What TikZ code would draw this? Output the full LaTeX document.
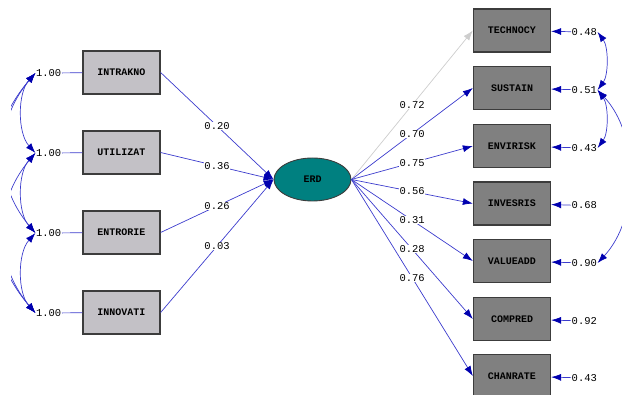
\documentclass[tikz,border=0pt]{standalone}
\usepackage{fontspec}
\setmonofont{Liberation Mono}
\usetikzlibrary{arrows.meta,shapes.geometric}
\definecolor{linkblue}{RGB}{60,60,205}
\definecolor{tipblue}{RGB}{0,0,175}
\definecolor{exogray}{RGB}{195,193,198}
\definecolor{endogray}{RGB}{128,128,128}
\definecolor{boxedge}{RGB}{60,60,60}
\definecolor{fixgray}{RGB}{205,205,205}
\definecolor{latteal}{RGB}{0,128,128}
\tikzset{
  exobox/.style={draw=boxedge, fill=exogray, line width=1.3pt, minimum width=77pt,
    minimum height=43pt, font=\ttfamily\bfseries\fontsize{10}{12}\selectfont},
  endobox/.style={exobox, fill=endogray},
  latent/.style={ellipse, draw=boxedge, fill=latteal, line width=0.9pt, minimum width=77pt,
    minimum height=43pt, font=\ttfamily\bfseries\fontsize{10}{12}\selectfont},
  coef/.style={fill=white, inner sep=0.5pt, font=\ttfamily\fontsize{10.5}{12}\selectfont},
  errlab/.style={inner sep=0.5pt, font=\ttfamily\fontsize{10.5}{12}\selectfont},
  link/.style={draw=linkblue, line width=0.7pt, -{Latex[length=10pt,width=7pt,color=tipblue]}},
  covar/.style={draw=linkblue, line width=0.7pt,
    {Latex[length=10pt,width=7pt,color=tipblue]}-{Latex[length=10pt,width=7pt,color=tipblue]}}
}
\begin{document}
\begin{tikzpicture}[x=1pt,y=-1pt]
    \useasboundingbox (0,0) rectangle (622,395);
    \clip (11,0) rectangle (622,395);
    % exogenous side
    \node[exobox] (intrakno) at (121.5,72.5) {INTRAKNO};
    \node[exobox] (utilizat) at (121.5,152.5) {UTILIZAT};
    \node[exobox] (entrorie) at (121.5,232.5) {ENTRORIE};
    \node[exobox] (innovati) at (121.5,312.5) {INNOVATI};
    \node[errlab,anchor=east] (vintra) at (62,73) {1.00};
    \node[errlab,anchor=east] (vutil) at (62,153) {1.00};
    \node[errlab,anchor=east] (ventr) at (62,233) {1.00};
    \node[errlab,anchor=east] (vinno) at (62,313) {1.00};
    \draw[linkblue,line width=0.7pt] (vintra) -- (intrakno);
    \draw[linkblue,line width=0.7pt] (vutil) -- (utilizat);
    \draw[linkblue,line width=0.7pt] (ventr) -- (entrorie);
    \draw[linkblue,line width=0.7pt] (vinno) -- (innovati);
    % covariances of the exogenous ones
    \draw[covar] (vintra.west) .. controls +(-18,20) and +(-18,-20) .. (vutil.west);
    \draw[covar] (vutil.west) .. controls +(-18,20) and +(-18,-20) .. (ventr.west);
    \draw[covar] (ventr.west) .. controls +(-18,20) and +(-18,-20) .. (vinno.west);
    \draw[covar] (vintra.west) .. controls +(-42,50) and +(-42,-50) .. (ventr.west);
    \draw[covar] (vutil.west) .. controls +(-42,50) and +(-42,-50) .. (vinno.west);
    \draw[covar] (vintra.west) .. controls +(-60,70) and +(-60,-70) .. (vinno.west);
    % latent
    \node[latent] (erd) at (312.5,179.5) {ERD};
    \draw[link] (intrakno.east) -- node[coef] {0.20} (erd.west);
    \draw[link] (utilizat.east) -- node[coef] {0.36} (erd.west);
    \draw[link] (entrorie.east) -- node[coef] {0.26} (erd.west);
    \draw[link] (innovati.east) -- node[coef] {0.03} (erd.west);
    % endogenous side
    \node[endobox] (technocy) at (512,30.5) {TECHNOCY};
    \node[endobox] (sustain) at (512,88) {SUSTAIN};
    \node[endobox] (envirisk) at (512,146) {ENVIRISK};
    \node[endobox] (invesris) at (512,203.5) {INVESRIS};
    \node[endobox] (valueadd) at (512,261) {VALUEADD};
    \node[endobox] (compred) at (512,319) {COMPRED};
    \node[endobox] (chanrate) at (512,376) {CHANRATE};
    \draw[link,draw=fixgray,-{Latex[length=10pt,width=7pt,color=fixgray]}] (erd.east) -- node[coef] {0.72} (technocy.west);
    \draw[link] (erd.east) -- node[coef] {0.70} (sustain.west);
    \draw[link] (erd.east) -- node[coef] {0.75} (envirisk.west);
    \draw[link] (erd.east) -- node[coef] {0.56} (invesris.west);
    \draw[link] (erd.east) -- node[coef] {0.31} (valueadd.west);
    \draw[link] (erd.east) -- node[coef] {0.28} (compred.west);
    \draw[link] (erd.east) -- node[coef] {0.76} (chanrate.west);
    % error variances
    \node[errlab,anchor=west] (etech) at (571,32) {0.48};
    \node[errlab,anchor=west] (esust) at (571,90) {0.51};
    \node[errlab,anchor=west] (eenvi) at (571,148) {0.43};
    \node[errlab,anchor=west] (einve) at (571,205.5) {0.68};
    \node[errlab,anchor=west] (evalu) at (571,263) {0.90};
    \node[errlab,anchor=west] (ecomp) at (571,321) {0.92};
    \node[errlab,anchor=west] (echan) at (571,378) {0.43};
    \draw[link] (etech) -- (technocy);
    \draw[link] (esust) -- (sustain);
    \draw[link] (eenvi) -- (envirisk);
    \draw[link] (einve) -- (invesris);
    \draw[link] (evalu) -- (valueadd);
    \draw[link] (ecomp) -- (compred);
    \draw[link] (echan) -- (chanrate);
    % error covariances
    \draw[covar] (etech.east) .. controls +(11,15) and +(11,-15) .. (esust.east);
    \draw[covar] (esust.east) .. controls +(11,15) and +(11,-15) .. (eenvi.east);
    \draw[covar] (esust.east) .. controls +(42,45) and +(42,-45) .. (evalu.east);
\end{tikzpicture}
\end{document}
